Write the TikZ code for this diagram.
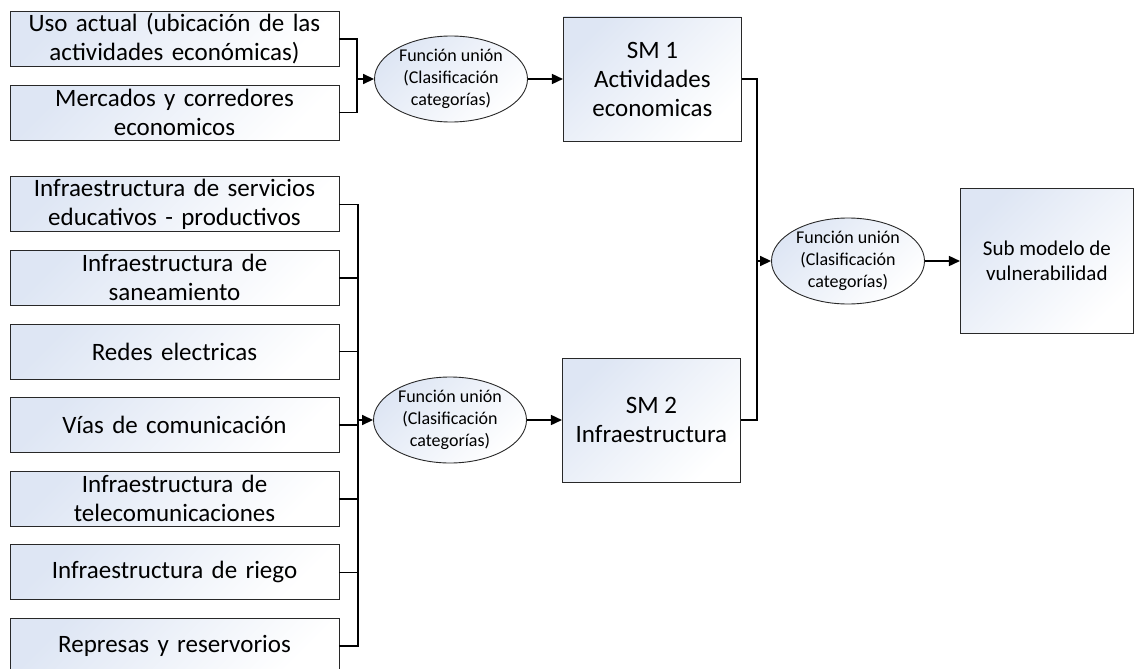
\documentclass[tikz,border=0pt]{standalone}
\usepackage{fontspec}
\setmainfont{Carlito}
\usetikzlibrary{positioning,arrows.meta,shapes.geometric}
\definecolor{boxtint}{RGB}{222,230,244}
\definecolor{edge}{RGB}{40,40,40}

\begin{document}
\begin{tikzpicture}[
  x=1pt, y=-1pt,
  node distance=17.7pt and 35pt,
  box/.style={draw=edge, line width=0.9pt, align=center, inner sep=0pt,
              left color=boxtint, right color=white, shading angle=45},
  src/.style={box, minimum width=329pt, minimum height=55pt,
              text width=325pt, font=\fontsize{25}{29}\selectfont},
  sub/.style={box, minimum width=178pt, minimum height=124pt,
              font=\fontsize{25}{29}\selectfont},
  fun/.style={box, ellipse, minimum width=153pt, minimum height=86pt,
              font=\fontsize{18}{22}\selectfont},
  conn/.style={line width=1.6pt},
  arr/.style={conn, -{Triangle[length=11pt,width=10pt]}}
]
\useasboundingbox (0,0) rectangle (1135,669);
% economic activities
\node[src] (uso) at (174.5,39) {Uso actual (ubicación de las\\ actividades económicas)};
\node[src, below=of uso] (merc) {Mercados y corredores\\ economicos};
% infrastructure
\node[src] (inf1) at (174.5,204.3) {Infraestructura de servicios\\ educativos - productivos};
\node[src, below=of inf1] (inf2) {Infraestructura de\\ saneamiento};
\node[src, below=of inf2] (inf3) {Redes electricas};
\node[src, below=of inf3] (inf4) {Vías de comunicación};
\node[src, below=of inf4] (inf5) {Infraestructura de\\ telecomunicaciones};
\node[src, below=of inf5] (inf6) {Infraestructura de riego};
\node[src, below=of inf6] (inf7) {Represas y reservorios};
% union functions and sub models
\node[fun] (fun1) at (451,79) {Función unión\\ (Clasificación\\ categorías)};
\node[sub, right=of fun1] (sm1) {SM 1\\ Actividades\\ economicas};
\node[fun] (fun2) at (450,420) {Función unión\\ (Clasificación\\ categorías)};
\node[sub, right=of fun2] (sm2) {SM 2\\ Infraestructura};
\node[fun] (fun3) at (848,261) {Función unión\\ (Clasificación\\ categorías)};
\node[sub, right=of fun3, minimum width=173pt, minimum height=145pt,
      font=\fontsize{21}{25}\selectfont] (vul) {Sub modelo de\\ vulnerabilidad};
\coordinate (j1) at (357,79);
\coordinate (j2) at (358,420);
\coordinate (j3) at (757,261);
\draw[conn] (uso.east) -| (j1);
\draw[conn] (merc.east) -| (j1);
\draw[arr] (j1) -- (fun1);
\foreach \n in {inf1,inf2,inf3,inf4,inf5,inf6,inf7}
  \draw[conn] (\n.east) -| (j2);
\draw[arr] (j2) -- (fun2);
\draw[arr] (fun1) -- (sm1);
\draw[arr] (fun2) -- (sm2);
\draw[conn] (sm1.east) -| (j3);
\draw[conn] (sm2.east) -| (j3);
\draw[arr] (j3) -- (fun3);
\draw[arr] (fun3) -- (vul);
\end{tikzpicture}
\end{document}
